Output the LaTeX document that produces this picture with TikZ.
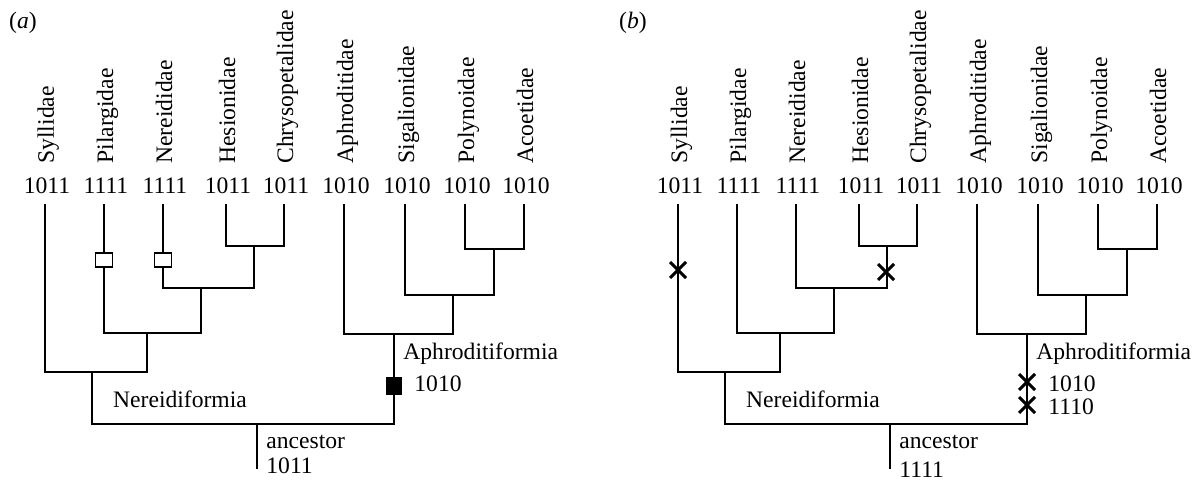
\documentclass[tikz,border=0pt]{standalone}
\usepackage{fontspec}
\setmainfont{Liberation Serif}
\usetikzlibrary{shapes.misc}

\begin{document}
\begin{tikzpicture}[x=0.5pt,y=-0.5pt,
  taxon/.style={rotate=90,anchor=west,inner sep=0pt,text height=8pt,text depth=2.5pt,font=\fontsize{11.8}{13}\selectfont},
  bits/.style={inner sep=0pt,font=\fontsize{11.8}{13}\selectfont},
  branch/.style={line width=0.6pt},
  opensq/.style={draw,fill=white,line width=0.6pt,minimum width=8.5pt,minimum height=7pt,inner sep=0pt},
  fullsq/.style={draw,fill=black,minimum width=7.5pt,minimum height=8.5pt,inner sep=0pt},
  xmark/.style={cross out,draw,line width=1.5pt,minimum width=6.5pt,minimum height=6.5pt,inner sep=0pt}]
\useasboundingbox (0,0) rectangle (1201,481);
% both trees, panel b shifted right
\foreach \p/\dx in {a/0,b/633}
{ \begin{scope}[xshift=\dx*0.5pt]
  \foreach \nm/\x/\bb/\tx in {syl/45/1011/Syllidae,pil/104/1111/Pilargidae,ner/163/1111/Nereididae,hes/226/1011/Hesionidae,chr/284/1011/Chrysopetalidae,aphr/344/1010/Aphroditidae,sig/405/1010/Sigalionidae,pol/465/1010/Polynoidae,aco/524/1010/Acoetidae}
  { \node[taxon] (\p-\nm-t) at (\x+3.5,164) {\tx};
    \node[bits] (\p-\nm-b) at (\x+2,186) {\bb};
    \coordinate (\p-\nm) at (\x,204);}
  \foreach \nm/\x/\y in {hc/254/246,nhc/201/288,pn/147/333,spn/92/372,pa/494/249,spa/453/295,aph/394/334,root/257/424}
    \coordinate (\p-\nm) at (\x,\y);
  \foreach \ch/\up in {syl/spn,pn/spn,pil/pn,nhc/pn,ner/nhc,hc/nhc,hes/hc,chr/hc,aphr/aph,spa/aph,sig/spa,pa/spa,pol/pa,aco/pa,spn/root,aph/root}
    \draw[branch] (\p-\ch) |- (\p-\up);
  \coordinate (\p-anc) at (257,469);
  \draw[branch] (\p-root) -- (\p-anc);
  \node[bits,anchor=west] (\p-anc-t) at (266,442) {ancestor};
  \node[bits] (\p-nerf) at (180,399) {Nereidiformia};
  \node[bits,anchor=west] (\p-aphf) at (403,354) {Aphroditiformia};
  \end{scope}}
% panel a
\node[bits] (lbl-a) at (23,23) {(\textit{a})};
\node[opensq] (a-sq1) at (104,260) {};
\node[opensq] (a-sq2) at (163,260) {};
\node[fullsq] (a-sq3) at (394,386) {};
\node[bits,anchor=west] (a-aph-b) at (414,384) {1010};
\node[bits,anchor=west] (a-anc-b) at (266,466) {1011};
% panel b
\node[bits] (lbl-b) at (633,23) {(\textit{b})};
\node[xmark] (b-x1) at (678,270) {};
\node[xmark] (b-x2) at (886,272) {};
\node[xmark] (b-x3) at (1027,382) {};
\node[xmark] (b-x4) at (1027,405) {};
\node[bits,anchor=west] (b-aph-b1) at (1048,384) {1010};
\node[bits,anchor=west] (b-aph-b2) at (1048,407) {1110};
\node[bits,anchor=west] (b-anc-b) at (899,470) {1111};
\end{tikzpicture}
\end{document}
